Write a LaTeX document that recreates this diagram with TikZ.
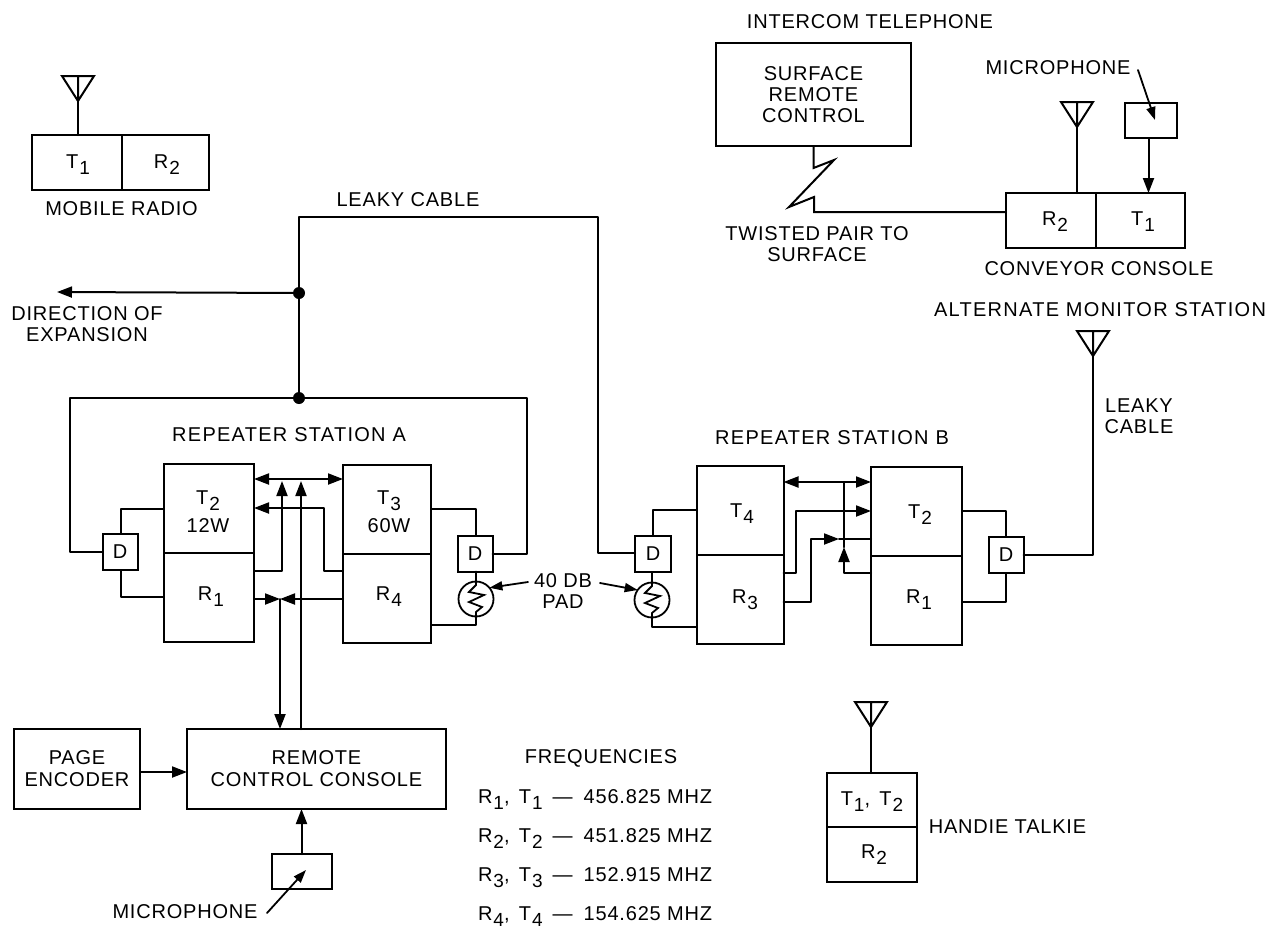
\documentclass[tikz,border=0pt]{standalone}
\usepackage{fontspec}
\setmainfont[LetterSpace=4]{Liberation Sans}
\usetikzlibrary{arrows.meta}
\newcommand{\sbs}[1]{\hspace{1pt}\raisebox{-6.5pt}{\fontsize{19}{19}\selectfont #1}}
\newcommand{\antennaAt}[1]{\draw[wire,line join=miter] (#1) -- ++(-16,-25) -- ++(32,0) -- cycle (#1) -- ++(0,-25);}
\newcommand{\zigAt}[1]{\draw[thinwire,line join=miter] (#1.north) -- ++(0,3.5) -- ++(-7,7) -- ++(15,3) -- ++(-15,7) -- ++(13,5) -- ++(-6,5) -- (#1.south);}
\newcommand{\freqline}[3]{R\sbs{#1},\hspace{3pt} T\sbs{#2}\hspace{10pt}—\hspace{11pt}#3 MHZ}
\tikzset{
  x=1pt,y=-1pt,
  wire/.style={line width=2pt,line cap=round,line join=round},
  thinwire/.style={line width=1.8pt,line cap=round,line join=round},
  tip/.style={-{Triangle[length=15pt,width=11pt]}},
  smalltip/.style={-{Triangle[length=13pt,width=9pt]}},
  tiptwo/.style={{Triangle[length=15pt,width=11pt]}-{Triangle[length=15pt,width=11pt]}},
  boxn/.style={draw,line width=2pt,inner sep=0pt,outer sep=0pt,align=center,minimum width=#1},
  boxn/.default=40pt,
  lbl/.style={inner sep=0pt,outer sep=0pt,align=center},
  blbl/.style={lbl,anchor=base},
  wide/.style={font=\fontsize{20}{21}\selectfont\addfontfeature{LetterSpace=6.4}},
  dot/.style={circle,fill=black,inner sep=0pt,minimum size=12pt},
  pad/.style={circle,draw,line width=1.8pt,inner sep=0pt,minimum size=35pt,outer sep=0pt},
}
\begin{document}
\begin{tikzpicture}
\useasboundingbox (0,0) rectangle (1274,930);
\fill[white] (0,0) rectangle (1274,930);
\begin{scope}[every node/.append style={font=\fontsize{20}{21}\selectfont}]
% --- Mobile radio
\node[boxn=90pt,minimum height=55pt] (MT) at (77,162.5) {};
\node[boxn=87pt,minimum height=55pt] (MR) at (165.5,162.5) {};
\node[blbl] (MTL) at (78,168) {T\sbs{1}};
\node[blbl] (MRT) at (167,168) {R\sbs{2}};
\coordinate (MA) at (78,101);
\antennaAt{MA}
\draw[wire] (MA) -- (MA |- MT.north);
\node[lbl] (MRL) at (121.5,209) {MOBILE RADIO};
% --- Surface
\node[lbl] (ITL) at (870,22) {INTERCOM TELEPHONE};
\node[boxn=195pt,minimum height=103pt] (SRC) at (813.5,94.5) {SURFACE\\REMOTE\\CONTROL};
% --- Conveyor console
\node[boxn=90pt,minimum height=55pt] (CR) at (1051,220.5) {};
\node[boxn=89pt,minimum height=55pt] (CT) at (1140.5,220.5) {};
\node[blbl] (CRL) at (1055,225) {R\sbs{2}};
\node[blbl] (CTL) at (1143,225) {T\sbs{1}};
\coordinate (CA) at (1077,127);
\antennaAt{CA}
\draw[wire] (CA) -- (CA |- CR.north);
\node[boxn=52pt,minimum height=35pt] (CM) at (1151,120.5) {};
\draw[wire,tip] (CM.south -| 1148.5,0) -- (CT.north -| 1148.5,0);
\node[lbl] (CML) at (1058,68) {MICROPHONE};
\coordinate (CMS) at (1138,70);
\coordinate (CME) at (1155,120);
\draw[thinwire,smalltip] (CMS) -- (CME);
\node[lbl] (CCL) at (1099,269) {CONVEYOR CONSOLE};
\node[lbl] (TPL) at (817,244.5) {TWISTED PAIR TO\\SURFACE};
\draw[wire,line join=miter] (SRC.south) -- ++(0,22) -- (834,160) -- (789,207) -- (814,197) -- (814,212) -- (CR.west |- 0,212);
% --- Alternate monitor
\node[lbl,wide] (AML) at (1100,310) {ALTERNATE MONITOR STATION};
\node[lbl] (LC2) at (1139,416) {LEAKY\\CABLE};
\coordinate (AA) at (1093,356);
\antennaAt{AA}
% --- Leaky cable, left
\node[lbl] (LC1) at (408,200) {LEAKY CABLE};
\node[lbl] (DEL) at (87,324.5) {DIRECTION OF\\EXPANSION};
\node[dot] (J1) at (299,293) {};
\node[dot] (J2) at (299,398) {};
\coordinate (DE) at (57,292);
\draw[wire,tip] (J1) -- (DE);
\draw[wire] (J2) -- (J1);
% --- Repeater A
\node[lbl,wide] (RAL) at (289,435) {REPEATER STATION A};
\node[boxn=90pt,minimum height=89pt] (AT2) at (209,508.5) {};
\node[boxn=90pt,minimum height=89pt] (AR1) at (209,597.5) {};
\node[boxn=88pt,minimum height=89pt] (AT3) at (387,509.5) {};
\node[boxn=88pt,minimum height=89pt] (AR4) at (387,598.5) {};
\node[blbl] (AT2L) at (208,504) {T\sbs{2}};
\node[blbl] (AT2W) at (208,532) {12W};
\node[blbl] (AR1L) at (211,600) {R\sbs{1}};
\node[blbl] (AT3L) at (389,504) {T\sbs{3}};
\node[blbl] (AT3W) at (389,532) {60W};
\node[blbl] (AR4L) at (389,600) {R\sbs{4}};
\node[boxn=35pt,minimum height=36pt] (AD1) at (120,552) {D};
\node[boxn=35pt,minimum height=36pt] (AD2) at (475,553.5) {D};
\node[pad] (AP) at (476,599) {};
\zigAt{AP}
\draw[thinwire] (AD1.north -| 121,0) |- (AT2.west |- 0,509);
\draw[thinwire] (AD1.south -| 121,0) |- (AR1.west |- 0,597);
\draw[thinwire] (AT3.east |- 0,509) -| (AD2.north -| 476,0);
\draw[thinwire] (AD2.south -| 476,0) -- (AP.north);
\draw[thinwire] (AR4.east |- 0,625) -| (AP.south);
\draw[wire] (J2) -- (70,398) |- (AD1.west);
\draw[wire] (J2) -- (527,398) |- (AD2.east);
\draw[wire,tiptwo] (AT2.east |- 0,479) -- (AT3.west |- 0,479);
\draw[wire,tip] (AR1.east |- 0,571) -| (282,481);
\coordinate (CC1) at (301,481);
\draw[wire,tip] (AR4.west |- 0,571) -| (324,508) -- (AT2.east |- 0,508);
\coordinate (MID) at (280,599);
\draw[wire,tip] (AR1.east |- MID) -- (MID);
\draw[wire,tip] (AR4.west |- MID) -- (MID);
% --- console
\node[boxn=259pt,minimum height=80pt] (RCC) at (316.5,769) {REMOTE\\[1pt]CONTROL CONSOLE};
\node[boxn=126pt,minimum height=80pt] (PE) at (77,769) {PAGE\\[1pt]ENCODER};
\draw[wire,tip] (PE.east |- 0,772) -- (RCC.west |- 0,772);
\draw[wire,tip] (RCC.north -| CC1) -- (CC1);
\draw[wire,tip] (MID) -- (RCC.north -| MID);
\node[boxn=60pt,minimum height=35pt] (RM) at (301.5,871.5) {};
\draw[wire,tip] (RM.north) -- (RCC.south -| RM);
\node[lbl] (RML) at (185,912) {MICROPHONE};
\coordinate (RMS) at (267,913);
\coordinate (RME) at (306,870);
\draw[thinwire,smalltip] (RMS) -- (RME);
% --- PAD label
\node[lbl] (PDL) at (563,591.5) {40 DB\\PAD};
\coordinate (PA1) at (528,582);
\coordinate (PA2) at (600,583);
\draw[thinwire,smalltip] (PA1) -- (AP.40);
% --- Repeater B
\node[lbl,wide] (RBL) at (832,438) {REPEATER STATION B};
\node[boxn=87pt,minimum height=89pt] (BT4) at (740,510.5) {};
\node[boxn=87pt,minimum height=89pt] (BR3) at (740,599.5) {};
\node[boxn=91pt,minimum height=89pt] (BT2) at (916.5,511.5) {};
\node[boxn=91pt,minimum height=89pt] (BR1) at (916.5,600.5) {};
\node[blbl] (BT4L) at (742,517) {T\sbs{4}};
\node[blbl] (BR3L) at (745,603) {R\sbs{3}};
\node[blbl] (BT2L) at (920,518) {T\sbs{2}};
\node[blbl] (BR1L) at (919,603) {R\sbs{1}};
\node[boxn=36pt,minimum height=36pt] (BD1) at (653,554) {D};
\node[boxn=35pt,minimum height=36pt] (BD2) at (1006,555) {D};
\node[pad] (BP) at (652,600) {};
\zigAt{BP}
\draw[wire] (J1) -- (299,217) -| (598,553) -- (BD1.west |- 0,553);
\draw[thinwire] (BD1.north -| 653,0) |- (BT4.west |- 0,510);
\draw[thinwire] (BD1.south -| 652,0) -- (BP.north);
\draw[thinwire] (BP.south) |- (BR3.west |- 0,627);
\draw[thinwire] (BT2.east |- 0,511) -| (BD2.north);
\draw[thinwire] (BR1.east |- 0,602) -| (BD2.south);
\draw[wire] (BD2.east) -- (1093,555) -- (AA);
\draw[wire,tiptwo] (BT4.east |- 0,482) -- (BT2.west |- 0,482);
\coordinate (BV) at (844,482);
\coordinate (BVT) at (844,547);
\draw[wire,tip] (BT2.west |- 0,573) -| (BVT);
\draw[wire] (BVT) -- (BV);
\draw[wire,tip] (BR3.east |- 0,573) -| (796,511) -- (BT2.west |- 0,511);
\coordinate (BAT) at (839,539);
\draw[wire,tip] (BR3.east |- 0,602) -| (811,539) -- (BAT);
\draw[wire] (BAT) -- (BT2.west |- 0,539);
\draw[thinwire,smalltip] (PA2) -- (BP.145);
% --- Frequencies
\node[lbl] (FQL) at (601,758) {FREQUENCIES};
\node[lbl,anchor=base west] (F1) at (478,803) {\freqline{1}{1}{456.825}};
\node[lbl,anchor=base west] (F2) at (478,842) {\freqline{2}{2}{451.825}};
\node[lbl,anchor=base west] (F3) at (478,881) {\freqline{3}{3}{152.915}};
\node[lbl,anchor=base west] (F4) at (478,920) {\freqline{4}{4}{154.625}};
% --- Handie talkie
\node[boxn=90pt,minimum height=54pt] (HT) at (872,800) {};
\node[boxn=90pt,minimum height=55pt] (HR) at (872,854.5) {};
\node[blbl] (HTL1) at (872,805) {T\sbs{1},\hspace{3pt} T\sbs{2}};
\node[blbl] (HRL) at (874,858) {R\sbs{2}};
\coordinate (HA) at (871,727);
\antennaAt{HA}
\draw[wire] (HA) -- (HA |- HT.north);
\node[lbl] (HTL) at (1007.5,827) {HANDIE TALKIE};
\end{scope}
\end{tikzpicture}
\end{document}
